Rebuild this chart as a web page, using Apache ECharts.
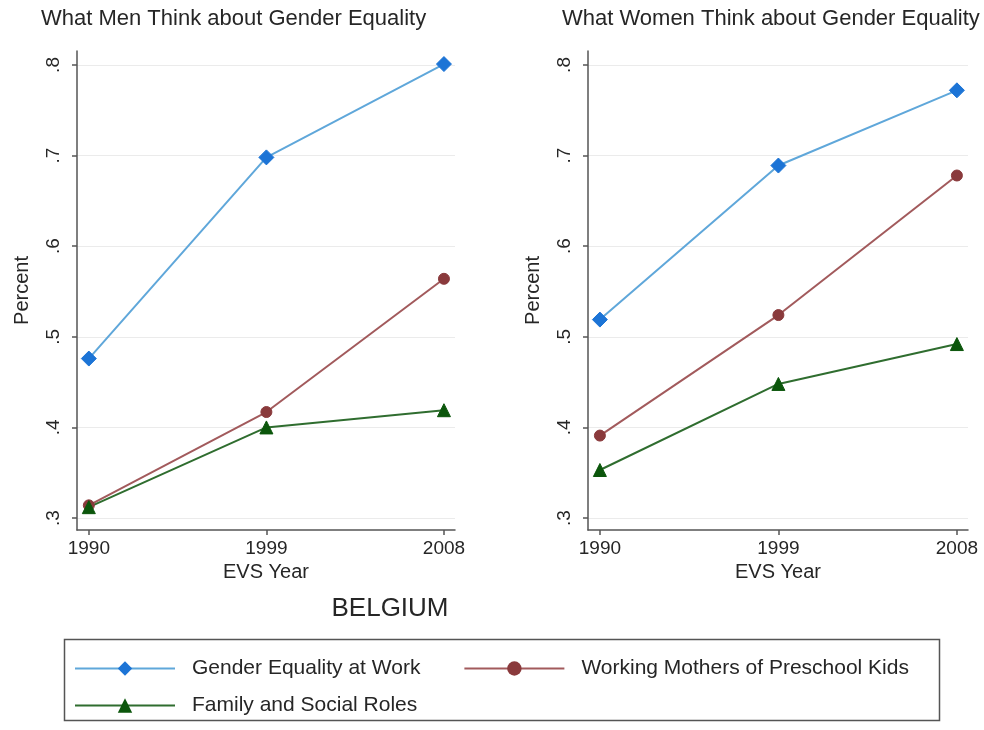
<!DOCTYPE html>
<html>
<head>
<meta charset="utf-8">
<script src="https://cdn.jsdelivr.net/npm/echarts@6/dist/echarts.min.js"></script>
<style>
html,body{margin:0;padding:0;background:#fff;}
#c{width:984px;height:730px;}
</style>
</head>
<body>
<div id="c"></div>
<script>
var years = [1990, 1999, 2008];
var xTicks = [1990, 1999, 2008];
var yTicks = [0.3, 0.4, 0.5, 0.6, 0.7, 0.8];
var seriesNames = ['Gender Equality at Work', 'Working Mothers of Preschool Kids', 'Family and Social Roles'];
var panelTitles = ['What Men Think about Gender Equality', 'What Women Think about Gender Equality'];
var countryLabel = 'BELGIUM';
var xAxisName = 'EVS Year';
var yAxisName = 'Percent';

var menWork = [0.476, 0.698, 0.801];
var menMothers = [0.314, 0.417, 0.564];
var menFamily = [0.312, 0.400, 0.419];
var womenWork = [0.519, 0.689, 0.772];
var womenMothers = [0.391, 0.524, 0.678];
var womenFamily = [0.353, 0.448, 0.492];

var FONT = 'Liberation Sans, Arial, sans-serif';
var TXT = '#262626';
var styles = [
  {line: '#5fa7da', mark: '#1c74d6', symbol: 'diamond', size: 15},
  {line: '#a25a5c', mark: '#8a3a3c', symbol: 'circle', size: 11},
  {line: '#2f6d2f', mark: '#0b560b', symbol: 'triangle', size: 13}
];

function pairs(vals) { return years.map(function (y, i) { return [y, vals[i]]; }); }

var grids = [
  {left: 77, right: 529, top: 51, height: 479},
  {left: 588, right: 16, top: 51, height: 479}
];

function xAxisFor(i) {
  return {
    type: 'value', gridIndex: i, min: 1989.4, max: 2008.56,
    name: xAxisName, nameLocation: 'middle', nameGap: 31,
    nameTextStyle: {fontFamily: FONT, fontSize: 20, color: TXT},
    axisLine: {show: true, lineStyle: {color: '#555', width: 1.5}},
    axisTick: {show: true, length: 5, customValues: xTicks, lineStyle: {color: '#555', width: 1.5}},
    axisLabel: {customValues: xTicks, margin: 9, fontFamily: FONT, fontSize: 19, color: TXT,
      formatter: function (v) { return String(Math.round(v)); }},
    splitLine: {show: false}
  };
}
function yAxisFor(i) {
  return {
    type: 'value', gridIndex: i, min: 0.2868, max: 0.8154,
    name: yAxisName, nameLocation: 'middle', nameGap: 45,
    nameTextStyle: {fontFamily: FONT, fontSize: 20, color: TXT},
    axisLine: {show: true, lineStyle: {color: '#555', width: 1.5}},
    axisTick: {show: true, length: 5, customValues: yTicks, lineStyle: {color: '#555', width: 1.5}},
    axisLabel: {customValues: yTicks, rotate: 90, margin: 14, fontFamily: FONT, fontSize: 19, color: TXT,
      formatter: function (v) { return '.' + Math.round(v * 10); }},
    splitLine: {show: true, lineStyle: {color: '#ebebeb', width: 1}}
  };
}

var data = [[menWork, menMothers, menFamily], [womenWork, womenMothers, womenFamily]];
var series = [];
for (var g = 0; g < 2; g++) {
  for (var s = 0; s < 3; s++) {
    var st = styles[s];
    series.push({
      type: 'line', name: seriesNames[s], xAxisIndex: g, yAxisIndex: g,
      data: pairs(data[g][s]),
      symbol: st.symbol, symbolSize: st.size, showAllSymbol: true,
      lineStyle: {color: st.line, width: 2},
      itemStyle: {color: st.mark, borderColor: st.mark},
      emphasis: {disabled: true}, animation: false
    });
  }
}

var legendBase = {
  orient: 'horizontal', left: 74, itemWidth: 100, itemHeight: 18, itemGap: 43, padding: 0,
  textStyle: {fontFamily: FONT, fontSize: 21, color: TXT, padding: [0, 0, 0, 12]},
  selectedMode: false
};

var option = {
  backgroundColor: '#ffffff',
  animation: false,
  title: [
    {text: panelTitles[0], left: 41, top: 8, padding: 0, textStyle: {fontFamily: FONT, fontSize: 22, fontWeight: 'normal', color: TXT}},
    {text: panelTitles[1], left: 562, top: 8, padding: 0, textStyle: {fontFamily: FONT, fontSize: 22, fontWeight: 'normal', color: TXT}},
    {text: countryLabel, left: 390, top: 596, padding: 0, textAlign: 'center', textStyle: {fontFamily: FONT, fontSize: 26, fontWeight: 'normal', color: TXT}}
  ],
  grid: grids,
  xAxis: [xAxisFor(0), xAxisFor(1)],
  yAxis: [yAxisFor(0), yAxisFor(1)],
  legend: [
    Object.assign({}, legendBase, {top: 658, data: [seriesNames[0], seriesNames[1]]}),
    Object.assign({}, legendBase, {top: 695, data: [seriesNames[2]]})
  ],
  graphic: [
    {type: 'rect', left: 62, top: 637, shape: {width: 875, height: 81}, style: {fill: 'none', stroke: '#555', lineWidth: 1.5}, silent: true}
  ],
  series: series
};

var chart = echarts.init(document.getElementById('c'), null, {renderer: 'canvas'});
chart.setOption(option);
</script>
</body>
</html>
